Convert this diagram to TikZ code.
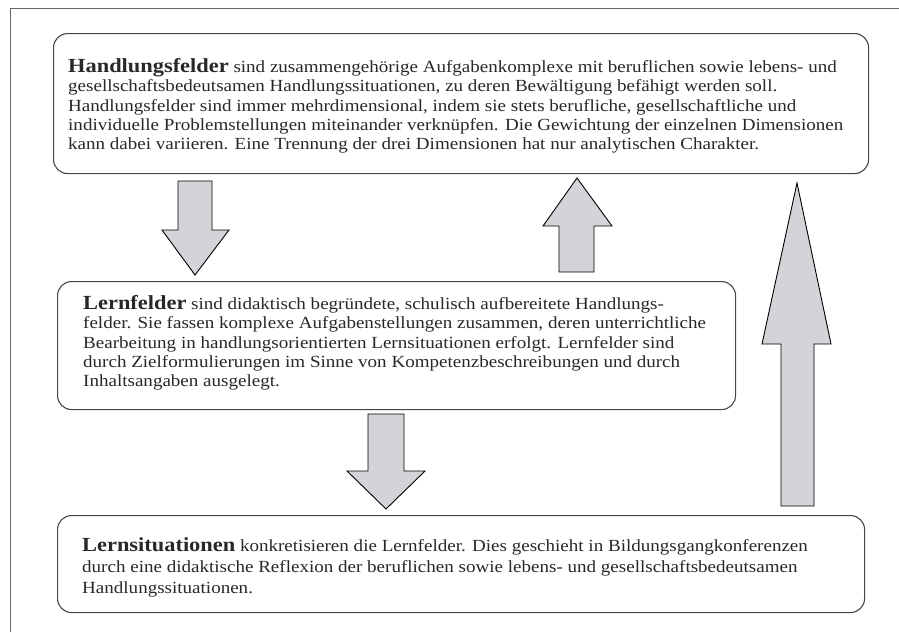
\documentclass[tikz,border=0pt]{standalone}
\usepackage{fontspec}
\setmainfont{Liberation Serif}[FakeStretch=1.12]
\usetikzlibrary{positioning}
\definecolor{arrowfill}{RGB}{211,212,216}
\definecolor{boxline}{RGB}{70,70,70}
\definecolor{textgray}{RGB}{40,40,40}
\begin{document}
\begin{tikzpicture}[x=1pt,y=-1pt,
    feldbox/.style={draw=boxline,line width=1.1pt,rounded corners=14pt,anchor=north west,inner sep=0pt},
    feldtext/.style={anchor=north west,align=left,inner sep=0pt,text=textgray,font=\fontsize{17}{19.4}\selectfont},
    blockarrow/.style={draw=black,fill=arrowfill,line width=0.9pt,line join=miter}]
    \useasboundingbox (0,0) rectangle (899,632);
    \draw [gray!80!black,line width=1pt] (10,632)--(10,8)--(899,8);
    % the three boxes
    \node [feldbox,minimum width=815pt,minimum height=140pt] (hfbox) at (53,33) {};
    \node [feldbox,minimum width=678pt,minimum height=128pt] (lfbox) at (57,281) {};
    \node [feldbox,minimum width=807pt,minimum height=97pt] (lsbox) at (57,515) {};
    \node [feldtext,below right=25pt and 15pt of hfbox.north west] (hf)
        {{\fontsize{20}{19.4}\selectfont\bfseries Handlungsfelder} sind zusammengehörige Aufgabenkomplexe mit beruflichen sowie lebens- und\\
        gesellschaftsbedeutsamen Handlungssituationen, zu deren Bewältigung befähigt werden soll.\\
        Handlungsfelder sind immer mehrdimensional, indem sie stets berufliche, gesellschaftliche und\\
        individuelle Problemstellungen miteinander verknüpfen. Die Gewichtung der einzelnen Dimensionen\\
        kann dabei variieren. Eine Trennung der drei Dimensionen hat nur analytischen Charakter.};
    \node [feldtext,below right=14pt and 26pt of lfbox.north west] (lf)
        {{\fontsize{20}{19.4}\selectfont\bfseries Lernfelder} sind didaktisch begründete, schulisch aufbereitete Handlungs-\\
        felder. Sie fassen komplexe Aufgabenstellungen zusammen, deren unterrichtliche\\
        Bearbeitung in handlungsorientierten Lernsituationen erfolgt. Lernfelder sind\\
        durch Zielformulierungen im Sinne von Kompetenzbeschreibungen und durch\\
        Inhaltsangaben ausgelegt.};
    \node [feldtext,font=\fontsize{17}{21}\selectfont,below right=22pt and 25pt of lsbox.north west] (ls)
        {{\fontsize{20}{21}\selectfont\bfseries Lernsituationen} konkretisieren die Lernfelder. Dies geschieht in Bildungsgangkonferenzen\\
        durch eine didaktische Reflexion der beruflichen sowie lebens- und gesellschaftsbedeutsamen\\
        Handlungssituationen.};
    % block arrows
    \draw [blockarrow] (178,181)--(212,181)--(212,230)--(229,230)--(195,275)--(162,230)--(178,230)--cycle;
    \draw [blockarrow] (559,272)--(594,272)--(594,226)--(612,226)--(577,178)--(543,226)--(559,226)--cycle;
    \draw [blockarrow] (368,414)--(404,414)--(404,471)--(425,471)--(386,509)--(347,471)--(368,471)--cycle;
    \draw [blockarrow] (781,506)--(814,506)--(814,344)--(831,344)--(797,183)--(762,344)--(781,344)--cycle;
\end{tikzpicture}
\end{document}
